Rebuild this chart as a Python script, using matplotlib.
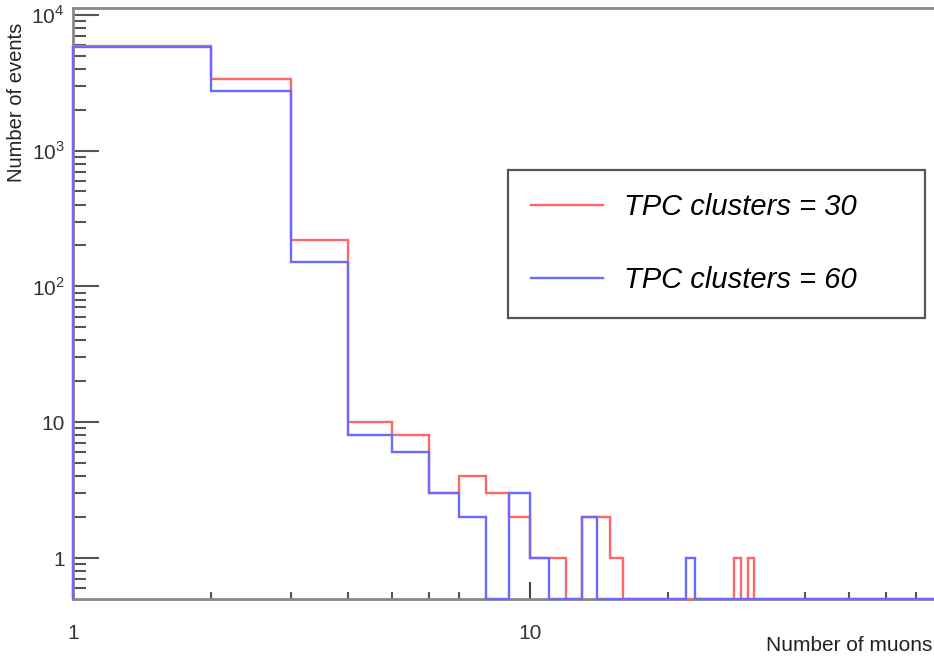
import matplotlib
matplotlib.use("Agg")
import matplotlib.pyplot as plt
from matplotlib.lines import Line2D
from matplotlib.ticker import FixedLocator, FixedFormatter
import numpy as np

plt.rcParams["font.family"] = ["Liberation Sans", "DejaVu Sans"]
plt.rcParams["mathtext.fontset"] = "custom"
plt.rcParams["mathtext.rm"] = "Liberation Sans"

# ===== data: events per muon multiplicity bin [n, n+1) =====
n_muons = list(range(1, 32))
counts_30 = [5900, 3350, 220, 10, 8, 3, 4, 3, 2, 1, 1, 0, 2, 2, 1, 0,
             0, 0, 0, 0, 0, 0, 0, 0, 0, 0, 0, 1, 0, 1, 0]
counts_60 = [5750, 2750, 150, 8, 6, 3, 2, 0, 3, 1, 0, 0, 2, 0, 0, 0,
             0, 0, 0, 0, 0, 1, 0, 0, 0, 0, 0, 0, 0, 0, 0]
labels = ["TPC clusters = 30", "TPC clusters = 60"]
colors = ["#ff6666", "#6a6aff"]

x_max = 77
y_min, y_max = 0.5, 1.12e4

# full histogram up to the axis end
edges = np.arange(1, x_max + 1)
h30 = np.zeros(len(edges) - 1)
h60 = np.zeros(len(edges) - 1)
h30[:len(counts_30)] = counts_30
h60[:len(counts_60)] = counts_60

fig = plt.figure(figsize=(9.34, 6.59), dpi=100)
ax = fig.add_axes([73 / 934, 1 - 599 / 659, 1 - 73 / 934, (599 - 8) / 659])

for h, c, z in [(h30, colors[0], 3), (h60, colors[1], 4)]:
    ax.stairs(np.maximum(h, y_min), edges, baseline=y_min, color=c,
              lw=1.7, zorder=z, clip_on=False)

ax.set_xscale("log")
ax.set_yscale("log")
ax.set_xlim(1, 76.6)
ax.set_ylim(y_min, y_max)

# ROOT-like ticks
ax.xaxis.set_major_locator(FixedLocator([1, 10]))
ax.xaxis.set_major_formatter(FixedFormatter(["1", "10"]))
ax.xaxis.set_minor_locator(FixedLocator([2, 3, 4, 5, 6, 7, 8, 9, 20, 30, 40, 50, 60, 70]))
ax.xaxis.set_minor_formatter(FixedFormatter([""] * 14))

ymaj = [1, 10, 100, 1000, 10000]
ax.yaxis.set_major_locator(FixedLocator(ymaj))
ax.yaxis.set_major_formatter(FixedFormatter(["1", "10", "$10^2$", "$10^3$", "$10^4$"]))
yminor = [m * 10.0 ** k for k in range(-1, 4) for m in range(2, 10) if 0.5 < m * 10.0 ** k < 1e4]
ax.yaxis.set_minor_locator(FixedLocator(yminor))
ax.yaxis.set_minor_formatter(FixedFormatter([""] * len(yminor)))

ax.tick_params(axis="y", which="major", direction="in", length=19, width=1.5,
               color="#555555", labelsize=15, labelcolor="#333333", pad=6)
ax.tick_params(axis="y", which="minor", direction="in", length=9, width=1.5,
               color="#555555")
ax.tick_params(axis="x", which="major", direction="in", length=12, width=1.5,
               color="#444444", labelsize=15, labelcolor="#333333", pad=18)
ax.tick_params(axis="x", which="minor", direction="in", length=5, width=1.5,
               color="#555555")

for s in ["top", "bottom", "left"]:
    ax.spines[s].set_color("#888888")
    ax.spines[s].set_linewidth(2)
ax.spines["right"].set_visible(False)

ax.set_ylabel("Number of events", fontsize=14.5, color="#222222", loc="top")
ax.yaxis.set_label_coords(-0.055, 0.975)
ax.set_xlabel("Number of muons", fontsize=15, color="#222222", loc="right")
ax.xaxis.set_label_coords(0.998, -0.062)

handles = [Line2D([], [], color=c, lw=1.7) for c in colors]
leg = ax.legend(handles, labels, loc="upper left",
                bbox_to_anchor=(0.505, 0.4755, 0.4845, 0.2505), mode="expand",
                borderaxespad=0,
                prop={"family": "Liberation Sans", "style": "italic", "size": 21},
                handlelength=2.45, handletextpad=0.75, borderpad=0.8,
                labelspacing=1.55, fancybox=False, framealpha=1)
leg.get_frame().set_edgecolor("#555555")
leg.get_frame().set_linewidth(1.6)

fig.savefig("out.png", dpi=100)
